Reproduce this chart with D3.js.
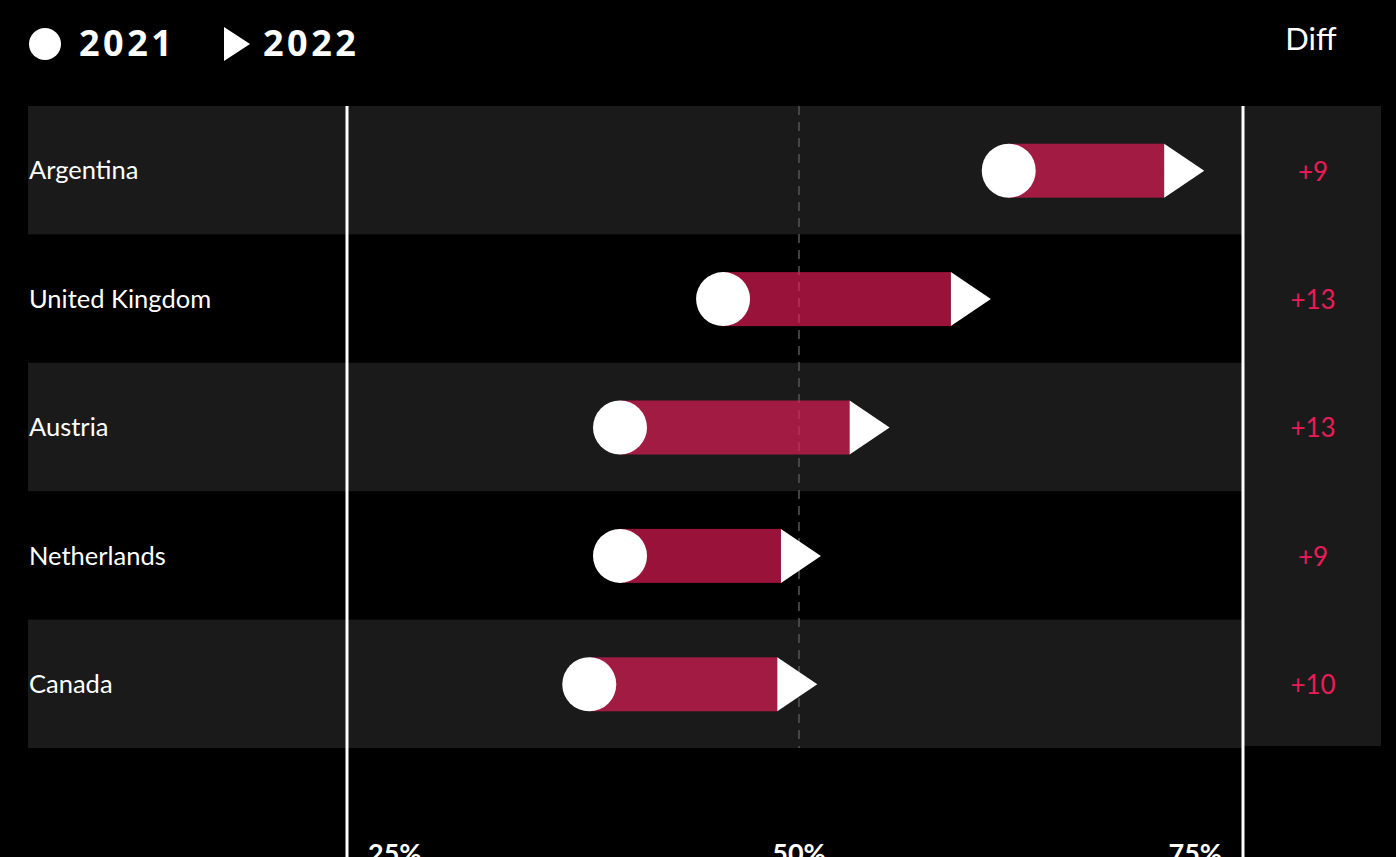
<!DOCTYPE html>
<html>
<head>
<meta charset="utf-8">
<script src="https://cdn.jsdelivr.net/npm/d3@7"></script>
<style>
  html, body { margin: 0; padding: 0; background: #000; overflow: hidden; }
  svg { display: block; }
</style>
</head>
<body>
<svg id="chart" width="1396" height="857"></svg>
<script>
// Share of respondents, 2021 vs 2022 (percent)
const countries = ["Argentina", "United Kingdom", "Austria", "Netherlands", "Canada"];
const values2021 = [61.6, 45.8, 40.1, 40.1, 38.4];
const values2022 = [70.2, 58.4, 52.8, 49.0, 48.8];
const tickValues = [25, 50, 75];
const tickLabels = ["25%", "50%", "75%"];
const legendYears = ["2021", "2022"];

const data = countries.map((c, i) => ({
  country: c,
  v2021: values2021[i],
  v2022: values2022[i],
  diff: Math.round(values2022[i] - values2021[i])
}));

const W = 1396, H = 857;
const svg = d3.select("#chart");
const font = "Lato, 'Open Sans', sans-serif";
const accent = "#ea1c57";

// Plot frame edges
const frameLeft = 347, frameRight = 1243;

const x = d3.scaleLinear().domain([25, 75]).range([347, 1251]);
const y = d3.scaleBand().domain(countries).range([106, 748]).padding(0);
const barH = 54;
const r = 27;
const arrowLen = 40;

// Alternating row bands
svg.append("g").selectAll("rect")
  .data(data.filter((d, i) => i % 2 === 0))
  .join("rect")
  .attr("x", 28)
  .attr("width", frameRight - 28)
  .attr("y", d => y(d.country))
  .attr("height", y.bandwidth())
  .attr("fill", "#1a1a1a");

// Diff column background
svg.append("rect")
  .attr("x", frameRight + 1)
  .attr("width", 1381 - frameRight - 1)
  .attr("y", y.range()[0])
  .attr("height", y.range()[1] - y.range()[0] - 2)
  .attr("fill", "#1a1a1a");

// Midline at 50%
svg.append("line")
  .attr("x1", x(50)).attr("x2", x(50))
  .attr("y1", y.range()[0]).attr("y2", y.range()[1])
  .attr("stroke", "#555")
  .attr("stroke-width", 1.5)
  .attr("stroke-dasharray", "9,7");

// Frame lines
svg.append("g").selectAll("line")
  .data([frameLeft, frameRight])
  .join("line")
  .attr("x1", d => d).attr("x2", d => d)
  .attr("y1", y.range()[0]).attr("y2", H)
  .attr("stroke", "#fff")
  .attr("stroke-width", 3);

// Tick labels
const last = tickValues.length - 1;
svg.append("g").selectAll("text")
  .data(tickValues)
  .join("text")
  .attr("x", (d, i) => i === 0 ? frameLeft + 21 : i === last ? frameRight - 21 : x(d))
  .attr("y", 863)
  .attr("text-anchor", (d, i) => i === 0 ? "start" : i === last ? "end" : "middle")
  .attr("fill", "#fff")
  .attr("font-family", font)
  .attr("font-weight", 700)
  .attr("font-size", 27)
  .text((d, i) => tickLabels[i]);

// Country labels
svg.append("g").selectAll("text")
  .data(data)
  .join("text")
  .attr("x", 29)
  .attr("y", d => y(d.country) + y.bandwidth() / 2)
  .attr("dy", "0.36em")
  .attr("fill", "#fff")
  .attr("font-family", font)
  .attr("font-size", 25.5)
  .text(d => d.country);

// Change bars
const rows = svg.append("g").selectAll("g")
  .data(data)
  .join("g")
  .attr("transform", d => `translate(0,${y(d.country) + y.bandwidth() / 2 + 0.5})`);

rows.append("rect")
  .attr("x", d => x(d.v2021))
  .attr("width", d => x(d.v2022) - x(d.v2021))
  .attr("y", -barH / 2)
  .attr("height", barH)
  .attr("fill", accent)
  .attr("fill-opacity", 0.65);

rows.append("path")
  .attr("d", d => {
    const bx = x(d.v2022);
    return `M${bx},${-barH / 2}L${bx + arrowLen},0L${bx},${barH / 2}Z`;
  })
  .attr("fill", "#fff");

rows.append("circle")
  .attr("cx", d => x(d.v2021))
  .attr("r", r)
  .attr("fill", "#fff");

// Diff values
svg.append("g").selectAll("text")
  .data(data)
  .join("text")
  .attr("x", 1313)
  .attr("y", d => y(d.country) + y.bandwidth() / 2 + 1)
  .attr("dy", "0.36em")
  .attr("text-anchor", "middle")
  .attr("fill", accent)
  .attr("font-family", font)
  .attr("font-size", 26)
  .text(d => d3.format("+")(d.diff));

svg.append("text")
  .attr("x", 1311)
  .attr("y", 50)
  .attr("text-anchor", "middle")
  .attr("fill", "#fff")
  .attr("font-family", font)
  .attr("font-size", 31)
  .text("Diff");

// Legend
const legend = svg.append("g");
legend.append("circle").attr("cx", 45).attr("cy", 44).attr("r", 16).attr("fill", "#fff");
legend.append("path").attr("d", "M224,27L250,44L224,61Z").attr("fill", "#fff");
legend.selectAll("text")
  .data(legendYears)
  .join("text")
  .attr("x", (d, i) => i === 0 ? 79 : 263)
  .attr("y", 56)
  .attr("fill", "#fff")
  .attr("font-family", "'Open Sans', sans-serif")
  .attr("font-weight", 700)
  .attr("font-size", 36)
  .attr("letter-spacing", 3.5)
  .text(d => d);
</script>
</body>
</html>
